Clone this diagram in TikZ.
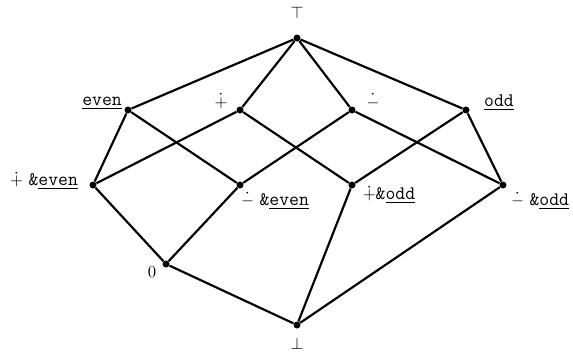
\documentclass[tikz,border=0pt]{standalone}
\usepackage{amsmath}
\newcommand{\tlbl}[1]{{\fontsize{11.5}{13}\selectfont\texttt{#1}}}

\begin{document}
\begin{tikzpicture}[
    x=0.6pt, y=-0.6pt,
    ptNode/.style={circle, fill=black, inner sep=0pt, minimum size=4.2pt},
    lblNode/.style={inner sep=0pt, font=\normalsize},
    edge/.style={draw, line width=1.3pt}
]
    \useasboundingbox (0,0) rectangle (573,358);

    \node[ptNode] (top) at (297,38) {};
    \node[ptNode] (even) at (128,110) {};
    \node[ptNode] (plus) at (240,110) {};
    \node[ptNode] (minus) at (352,110) {};
    \node[ptNode] (odd) at (466,110) {};
    \node[ptNode] (plusEven) at (93,185) {};
    \node[ptNode] (minusEven) at (240,185) {};
    \node[ptNode] (plusOdd) at (352,185) {};
    \node[ptNode] (minusOdd) at (503,185) {};
    \node[ptNode] (zero) at (166,264) {};
    \node[ptNode] (bot) at (297,325) {};

    \node[lblNode] (lTop) at (297,13) {$\top$};
    \node[lblNode] (lEven) at (102,103) {\tlbl{\underline{even}}};
    \node[lblNode] (lPlus) at (221,101) {$\dot{+}$};
    \node[lblNode] (lMinus) at (373,101) {$\dot{-}$};
    \node[lblNode] (lOdd) at (499,103) {\tlbl{\underline{odd}}};
    \node[lblNode] (lPlusEven) at (44,181) {$\dot{+}$\ \tlbl{\&\underline{even}}};
    \node[lblNode] (lMinusEven) at (275,201) {$\dot{-}$\ \tlbl{\&\underline{even}}};
    \node[lblNode] (lPlusOdd) at (389,195) {$\dot{+}$\tlbl{\&\underline{odd}}};
    \node[lblNode] (lMinusOdd) at (540,201) {$\dot{-}$\ \tlbl{\&\underline{odd}}};
    \node[lblNode] (lZero) at (152,272) {$0$};
    \node[lblNode] (lBot) at (297,344) {$\bot$};

    \foreach \a/\b in {top/even, top/plus, top/minus, top/odd,
        even/plusEven, even/minusEven, plus/plusEven, plus/plusOdd,
        minus/minusEven, minus/minusOdd, odd/plusOdd, odd/minusOdd,
        plusEven/zero, minusEven/zero, plusOdd/bot, minusOdd/bot, zero/bot}
        \draw[edge] (\a) -- (\b);
\end{tikzpicture}
\end{document}
